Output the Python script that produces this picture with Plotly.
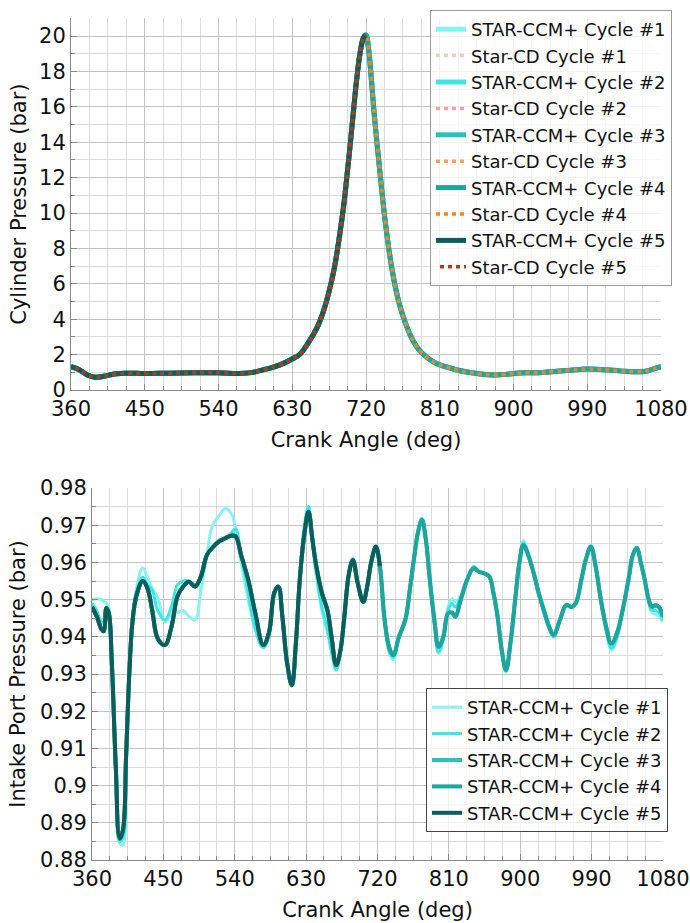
import plotly.graph_objects as go

# ---------------- data: cylinder pressure (top) ----------------
CYL_ANGLE = [360, 370, 380, 390, 400, 415, 430, 450, 480, 510, 540, 565, 580, 598,
             615, 631, 640, 650, 660, 667, 674, 681, 687, 693, 697, 701, 705,
             709, 713, 717, 720, 723, 727, 730, 737, 743, 749, 755, 761, 768, 774,
             781, 788, 797, 806, 818, 831, 845, 860, 877, 890, 900, 915, 930, 950,
             970, 990, 1010, 1030, 1050, 1060, 1070, 1080]
CYL_PRESSURE = [1.32, 1.15, 0.85, 0.72, 0.78, 0.92, 0.95, 0.93, 0.95, 0.97, 0.97, 0.93, 0.98, 1.18,
                1.42, 1.78, 2.05, 2.7, 3.5, 4.3, 5.4, 6.8, 8.5, 10.5, 12.2, 14.0, 15.9,
                17.7, 19.1, 19.9, 20.05, 19.3, 17.3, 15.6, 12.3, 9.7, 7.6, 6.0, 4.8, 3.8, 3.1,
                2.5, 2.1, 1.75, 1.5, 1.3, 1.13, 1.0, 0.9, 0.85, 0.88, 0.93, 0.97, 0.98, 1.05,
                1.12, 1.18, 1.15, 1.08, 1.03, 1.05, 1.18, 1.32]
CYCLE5_END_TOP = 720

# ---------------- data: intake port pressure (bottom) ----------------
INTAKE_ANGLE = [360, 366, 372, 375, 378, 381, 385, 390, 395, 399, 403, 407, 411, 416, 424, 430,
                436, 443, 452, 460, 468, 475, 482, 490, 497, 505, 512, 520, 528, 536, 541, 548,
                557, 566, 576, 583, 590, 595, 600, 606, 612, 617, 622, 628, 633, 638, 643, 650,
                657, 662, 668, 673, 678, 684, 689, 695, 702, 707, 712, 718, 723, 729, 735, 740,
                747, 755, 761, 766, 771, 776, 781, 786, 792, 797, 803, 809, 814, 818, 825, 833,
                841, 848, 855, 861, 866, 871, 877, 882, 888, 894, 899, 904, 910, 917, 923, 930,
                936, 942, 950, 958, 965, 970, 977, 983, 989, 995, 1001, 1008, 1015, 1022, 1030,
                1037, 1042, 1047, 1052, 1057, 1062, 1066, 1071, 1075, 1080]
INTAKE_BASE = [0.9480, 0.9455, 0.9420, 0.9415, 0.9477, 0.9465, 0.9330, 0.9050, 0.8858, 0.8880,
               0.9080, 0.9300, 0.9440, 0.9510, 0.9550, 0.9530, 0.9470, 0.9395, 0.9378, 0.9425,
               0.9510, 0.9535, 0.9548, 0.9535, 0.9560, 0.9620, 0.9640, 0.9656, 0.9665, 0.9672,
               0.9670, 0.9620, 0.9553, 0.9463, 0.9378, 0.9410, 0.9520, 0.9535, 0.9455, 0.9330,
               0.9270, 0.9380, 0.9553, 0.9680, 0.9736, 0.9660, 0.9588, 0.9517, 0.9470, 0.9400,
               0.9324, 0.9360, 0.9450, 0.9570, 0.9606, 0.9545, 0.9494, 0.9535, 0.9600, 0.9642,
               0.9590, 0.9445, 0.9370, 0.9351, 0.9400, 0.9445, 0.9530, 0.9610, 0.9680, 0.9714,
               0.9660, 0.9553, 0.9440, 0.9373, 0.9400, 0.9463, 0.9465, 0.9454, 0.9500, 0.9553,
               0.9584, 0.9575, 0.9570, 0.9562, 0.9520, 0.9460, 0.9360, 0.9311, 0.9390, 0.9508,
               0.9600, 0.9647, 0.9620, 0.9571, 0.9520, 0.9470, 0.9430, 0.9405, 0.9445, 0.9485,
               0.9480, 0.9490, 0.9553, 0.9610, 0.9642, 0.9590, 0.9508, 0.9430, 0.9382, 0.9410,
               0.9481, 0.9560, 0.9620, 0.9638, 0.9600, 0.9553, 0.9500, 0.9481, 0.9485, 0.9480,
               0.9454]
INTAKE_C1 = [0.9500, 0.9502, 0.9500, 0.9495, 0.9490, 0.9480, 0.9340, 0.9050, 0.8845, 0.8840,
             0.9040, 0.9280, 0.9440, 0.9530, 0.9585, 0.9560, 0.9530, 0.9505, 0.9440, 0.9460,
             0.9465, 0.9470, 0.9455, 0.9445, 0.9520, 0.9620, 0.9700, 0.9725, 0.9745, 0.9730,
             0.9690, 0.9600, 0.9500, 0.9420, 0.9370, 0.9400, 0.9510, 0.9535, 0.9455, 0.9330,
             0.9270, 0.9380, 0.9560, 0.9700, 0.9750, 0.9650, 0.9560, 0.9470, 0.9410, 0.9360,
             0.9310, 0.9360, 0.9450, 0.9570, 0.9610, 0.9545, 0.9494, 0.9535, 0.9600, 0.9645,
             0.9590, 0.9440, 0.9355, 0.9338, 0.9400, 0.9450, 0.9535, 0.9615, 0.9685, 0.9718,
             0.9660, 0.9550, 0.9430, 0.9355, 0.9390, 0.9480, 0.9502, 0.9495, 0.9510, 0.9555,
             0.9590, 0.9575, 0.9572, 0.9562, 0.9520, 0.9460, 0.9355, 0.9305, 0.9390, 0.9510,
             0.9610, 0.9658, 0.9625, 0.9565, 0.9512, 0.9462, 0.9422, 0.9398, 0.9445, 0.9488,
             0.9480, 0.9492, 0.9555, 0.9612, 0.9646, 0.9592, 0.9500, 0.9418, 0.9364, 0.9395,
             0.9478, 0.9560, 0.9622, 0.9642, 0.9600, 0.9550, 0.9490, 0.9465, 0.9460, 0.9455,
             0.9440]
INTAKE_C2 = [0.9490, 0.9470, 0.9440, 0.9440, 0.9480, 0.9470, 0.9330, 0.9050, 0.8850, 0.8860,
             0.9060, 0.9290, 0.9440, 0.9520, 0.9560, 0.9540, 0.9525, 0.9470, 0.9445, 0.9480,
             0.9540, 0.9550, 0.9550, 0.9540, 0.9560, 0.9620, 0.9640, 0.9660, 0.9665, 0.9680,
             0.9690, 0.9620, 0.9520, 0.9420, 0.9372, 0.9400, 0.9515, 0.9535, 0.9455, 0.9330,
             0.9270, 0.9380, 0.9560, 0.9700, 0.9750, 0.9660, 0.9570, 0.9480, 0.9420, 0.9360,
             0.9312, 0.9360, 0.9450, 0.9570, 0.9610, 0.9545, 0.9494, 0.9535, 0.9600, 0.9645,
             0.9590, 0.9440, 0.9360, 0.9345, 0.9400, 0.9450, 0.9535, 0.9615, 0.9685, 0.9718,
             0.9660, 0.9550, 0.9430, 0.9360, 0.9395, 0.9470, 0.9490, 0.9480, 0.9505, 0.9555,
             0.9588, 0.9575, 0.9570, 0.9562, 0.9520, 0.9460, 0.9358, 0.9308, 0.9390, 0.9510,
             0.9605, 0.9652, 0.9622, 0.9568, 0.9515, 0.9465, 0.9425, 0.9400, 0.9445, 0.9486,
             0.9480, 0.9490, 0.9553, 0.9610, 0.9644, 0.9590, 0.9504, 0.9422, 0.9370, 0.9400,
             0.9480, 0.9560, 0.9620, 0.9640, 0.9600, 0.9550, 0.9495, 0.9472, 0.9470, 0.9465,
             0.9445]
CYCLE5_END_BOTTOM = 723

# ---------------- labels / ticks ----------------
X_TICKS = [360, 450, 540, 630, 720, 810, 900, 990, 1080]
TOP_Y_TICKS = [0, 2, 4, 6, 8, 10, 12, 14, 16, 18, 20]
BOT_Y_TICKS = [0.88, 0.89, 0.90, 0.91, 0.92, 0.93, 0.94, 0.95, 0.96, 0.97, 0.98]
BOT_Y_TEXT = ["0.88", "0.89", "0.9", "0.91", "0.92", "0.93", "0.94", "0.95", "0.96", "0.97", "0.98"]
CCM_NAMES = ["STAR-CCM+ Cycle #1", "STAR-CCM+ Cycle #2", "STAR-CCM+ Cycle #3",
             "STAR-CCM+ Cycle #4", "STAR-CCM+ Cycle #5"]
CD_NAMES = ["Star-CD Cycle #1", "Star-CD Cycle #2", "Star-CD Cycle #3",
            "Star-CD Cycle #4", "Star-CD Cycle #5"]
CCM_COLORS = ["#86f2f2", "#3fe4e4", "#2cc0bc", "#1fa59d", "#0d5e5b"]
CD_COLORS = ["#f7c6ce", "#f19fa9", "#f5a553", "#f0862a", "#b53a1c"]

FONT = "DejaVu Sans"
fig = go.Figure()

# ---- top chart traces ----
n5_top = CYL_ANGLE.index(CYCLE5_END_TOP) + 1
for i in range(5):
    xs = CYL_ANGLE if i < 4 else CYL_ANGLE[:n5_top]
    ys = CYL_PRESSURE if i < 4 else CYL_PRESSURE[:n5_top]
    fig.add_trace(go.Scatter(x=xs, y=ys, mode="lines", name=CCM_NAMES[i],
                             line=dict(color=CCM_COLORS[i], width=5, shape="spline",
                                       smoothing=1.2),
                             xaxis="x", yaxis="y", legend="legend"))
    fig.add_trace(go.Scatter(x=xs, y=ys, mode="lines", name=CD_NAMES[i],
                             line=dict(color=CD_COLORS[i], width=3.5, shape="spline",
                                       smoothing=1.2,
                                       dash="4px,4px" if i < 4 else "0px,4px,4px,0px"),
                             xaxis="x", yaxis="y", legend="legend"))

# ---- bottom chart traces ----
n5_bot = INTAKE_ANGLE.index(CYCLE5_END_BOTTOM) + 1
bottom_series = [
    (INTAKE_ANGLE, INTAKE_C1, 3),
    (INTAKE_ANGLE, INTAKE_C2, 3),
    (INTAKE_ANGLE, INTAKE_BASE, 4),
    (INTAKE_ANGLE, INTAKE_BASE, 4),
    (INTAKE_ANGLE[:n5_bot], INTAKE_BASE[:n5_bot], 4),
]
for i, (xs, ys, w) in enumerate(bottom_series):
    fig.add_trace(go.Scatter(x=xs, y=ys, mode="lines", name=CCM_NAMES[i],
                             line=dict(color=CCM_COLORS[i], width=w, shape="spline",
                                       smoothing=1.1),
                             xaxis="x2", yaxis="y2", legend="legend2"))

GRID_MAJOR = "#c4c4c4"
GRID_MINOR = "#dcdcdc"
AXIS_COL = "#8a8a8a"

def xaxis_style(domain, anchor):
    return dict(domain=domain, anchor=anchor, range=[360, 1080], tickvals=X_TICKS,
                showgrid=True, gridcolor=GRID_MAJOR, gridwidth=1,
                minor=dict(dtick=22.5, tick0=360, showgrid=True, gridcolor=GRID_MINOR,
                           ticks="inside", ticklen=4, tickcolor=AXIS_COL),
                ticks="inside", ticklen=6, tickcolor=AXIS_COL,
                showline=True, linecolor=AXIS_COL, linewidth=1, zeroline=False,
                tickfont=dict(family=FONT, size=21, color="#111"),
                title=dict(text="Crank Angle (deg)", font=dict(family=FONT, size=21, color="#111"),
                           standoff=12),
                automargin=False)

def yaxis_style(domain, anchor, rng, tickvals, ticktext, minor_dtick, title, standoff):
    return dict(domain=domain, anchor=anchor, range=rng, tickvals=tickvals, ticktext=ticktext,
                showgrid=True, gridcolor=GRID_MAJOR, gridwidth=1,
                minor=dict(dtick=minor_dtick, tick0=rng[0], showgrid=True, gridcolor=GRID_MINOR,
                           ticks="inside", ticklen=4, tickcolor=AXIS_COL),
                ticks="inside", ticklen=6, tickcolor=AXIS_COL,
                showline=True, linecolor=AXIS_COL, linewidth=1, zeroline=False,
                tickfont=dict(family=FONT, size=21, color="#111"),
                title=dict(text=title, font=dict(family=FONT, size=21, color="#111"),
                           standoff=standoff),
                automargin=False)

W, H = 690, 923
fig.update_layout(
    width=W, height=H, margin=dict(l=0, r=0, t=0, b=0),
    paper_bgcolor="white", plot_bgcolor="white",
    font=dict(family=FONT, color="#111"),
    xaxis=xaxis_style([71 / W, 661 / W], "y"),
    yaxis=yaxis_style([1 - 390 / H, 1 - 18.3 / H], "x", [0, 21],
                      TOP_Y_TICKS, [str(v) for v in TOP_Y_TICKS], 1,
                      "Cylinder Pressure (bar)", 6),
    xaxis2=xaxis_style([92 / W, 663 / W], "y2"),
    yaxis2=yaxis_style([1 - 860 / H, 1 - 488 / H], "x2", [0.88, 0.98],
                       BOT_Y_TICKS, BOT_Y_TEXT, 0.005,
                       "Intake Port Pressure (bar)", 8),
    legend=dict(x=672 / W, xanchor="right", y=1 - 10 / H, yanchor="top",
                bgcolor="rgba(255,255,255,0.78)", bordercolor="#9a9a9a", borderwidth=1,
                font=dict(family=FONT, size=18, color="#111"), tracegroupgap=0,
                itemwidth=30),
    legend2=dict(x=668 / W, xanchor="right", y=1 - 688 / H, yanchor="top",
                 bgcolor="rgba(255,255,255,0.78)", bordercolor="#444", borderwidth=1,
                 font=dict(family=FONT, size=18, color="#111"), tracegroupgap=0,
                 itemwidth=30),
    showlegend=True,
)

fig.write_html("out.html")
